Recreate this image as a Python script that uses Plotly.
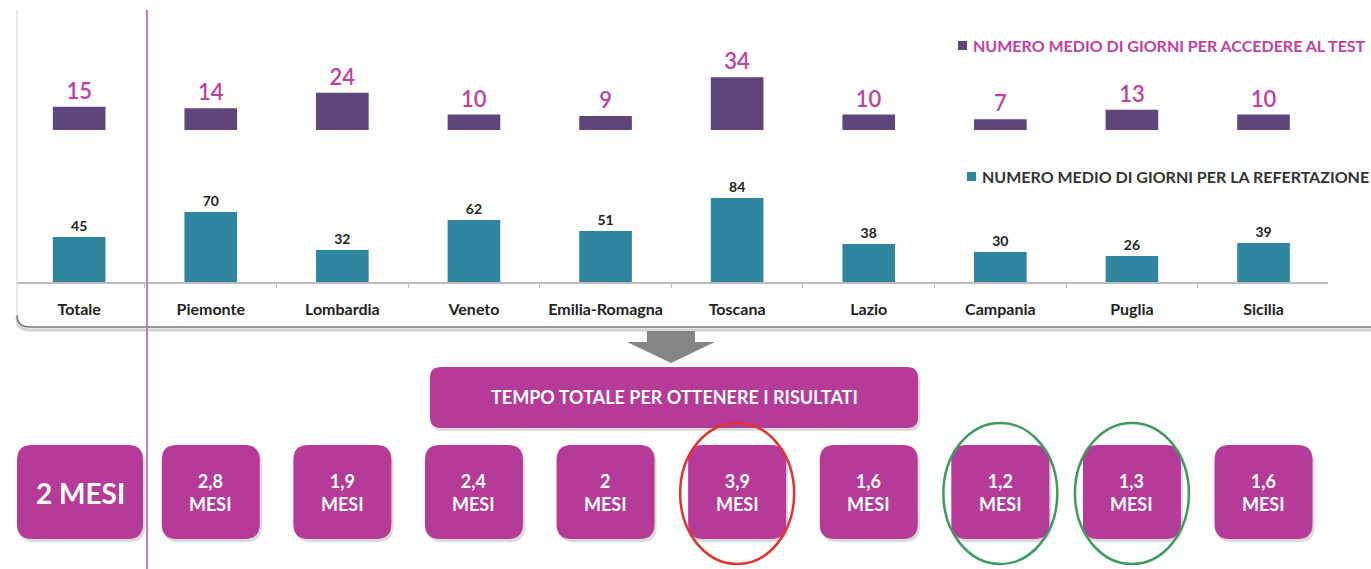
import plotly.graph_objects as go

# ---------------- data ----------------
categories = ["Totale", "Piemonte", "Lombardia", "Veneto", "Emilia-Romagna",
              "Toscana", "Lazio", "Campania", "Puglia", "Sicilia"]
giorni_accesso = [15, 14, 24, 10, 9, 34, 10, 7, 13, 10]
giorni_referto = [45, 70, 32, 62, 51, 84, 38, 30, 26, 39]
tempo_totale = ["2", "2,8", "1,9", "2,4", "2", "3,9", "1,6", "1,2", "1,3", "1,6"]
evidenza = [None, None, None, None, None, "red", None, "green", "green", None]
legend_accesso = "NUMERO MEDIO DI GIORNI PER ACCEDERE AL TEST"
legend_referto = "NUMERO MEDIO DI GIORNI PER LA REFERTAZIONE"
titolo = "TEMPO TOTALE PER OTTENERE I RISULTATI"

# ---------------- style ----------------
W, H = 1371, 569
FONT = "Lato"
PURPLE = "#5E467B"
TEAL = "#2F859D"
MAGENTA = "#B63A97"
LABEL_MAG = "#C23FA0"
DARK = "#222222"

X_DOM = (16, 1328)
X_RANGE = (-0.48, 9.49)


def X(px):
    return px / W


def Y(py):
    return 1 - py / H


def cat_px(i):
    return X_DOM[0] + (i - X_RANGE[0]) / (X_RANGE[1] - X_RANGE[0]) * (X_DOM[1] - X_DOM[0])


def rrect(x0, y0, x1, y1, r):
    pts = [("M", [(x0 + r, y0)]), ("L", [(x1 - r, y0)]), ("Q", [(x1, y0), (x1, y0 + r)]),
           ("L", [(x1, y1 - r)]), ("Q", [(x1, y1), (x1 - r, y1)]), ("L", [(x0 + r, y1)]),
           ("Q", [(x0, y1), (x0, y1 - r)]), ("L", [(x0, y0 + r)]), ("Q", [(x0, y0), (x0 + r, y0)])]
    s = ""
    for cmd, ps in pts:
        s += cmd + " " + " ".join(f"{X(a):.5f},{Y(b):.5f}" for a, b in ps) + " "
    return s + "Z"


fig = go.Figure()

fig.add_trace(go.Bar(
    x=categories, y=giorni_accesso, xaxis="x", yaxis="y2",
    marker=dict(color=PURPLE, line=dict(width=0)), width=0.4,
    text=[str(v) for v in giorni_accesso], textposition="outside",
    textfont=dict(family=FONT, size=22, color=LABEL_MAG, weight=600),
    cliponaxis=False, showlegend=False, hoverinfo="skip"))

fig.add_trace(go.Bar(
    x=categories, y=giorni_referto, xaxis="x", yaxis="y",
    marker=dict(color=TEAL, line=dict(width=0)), width=0.4,
    text=[str(v) for v in giorni_referto], textposition="outside",
    textfont=dict(family=FONT, size=14, color=DARK, weight="bold"),
    cliponaxis=False, showlegend=False, hoverinfo="skip"))

shapes = []
annotations = []

# panel frame
shapes.append(dict(type="path", xref="paper", yref="paper",
                   path=f"M {X(17)},{Y(10)} L {X(17)},{Y(314)}",
                   line=dict(color="#E2E2E2", width=1.5)))
shapes.append(dict(type="path", xref="paper", yref="paper",
                   path=f"M {X(17)},{Y(318)} Q {X(17)},{Y(330)} {X(30)},{Y(330)} L {X(1371)},{Y(330)}",
                   line=dict(color="#D3D3D3", width=3)))
shapes.append(dict(type="path", xref="paper", yref="paper",
                   path=f"M {X(17)},{Y(315)} Q {X(17)},{Y(327)} {X(30)},{Y(327)} L {X(1371)},{Y(327)}",
                   line=dict(color="#777777", width=1.5)))

# vertical separator
shapes.append(dict(type="line", xref="paper", yref="paper",
                   x0=X(147), x1=X(147), y0=Y(10), y1=Y(569),
                   line=dict(color="#C47DB8", width=2)))

# arrow
shapes.append(dict(type="path", xref="paper", yref="paper",
                   path=(f"M {X(647)},{Y(331)} L {X(695)},{Y(331)} L {X(695)},{Y(342)} "
                         f"L {X(715)},{Y(342)} L {X(671)},{Y(363)} L {X(627)},{Y(342)} "
                         f"L {X(647)},{Y(342)} Z"),
                   fillcolor="#858585", line=dict(width=0)))

# title box
shapes.append(dict(type="path", xref="paper", yref="paper", path=rrect(432, 370, 920, 431, 11),
                   fillcolor="#D9D9D9", line=dict(width=0)))
shapes.append(dict(type="path", xref="paper", yref="paper", path=rrect(430, 367, 918, 428, 11),
                   fillcolor=MAGENTA, line=dict(width=0)))
annotations.append(dict(xref="paper", yref="paper", x=X(674), y=Y(397), text=titolo,
                        xanchor="center", yanchor="middle", showarrow=False,
                        font=dict(family=FONT, size=18, color="white", weight="bold")))

# result boxes
for i, (cat, v) in enumerate(zip(categories, tempo_totale)):
    c = cat_px(i)
    if i == 0:
        x0, x1 = 17, 143
    else:
        x0, x1 = c - 49, c + 49
    shapes.append(dict(type="path", xref="paper", yref="paper", path=rrect(x0 + 2, 448, x1 + 2, 542, 15),
                       fillcolor="#DADADA", line=dict(width=0)))
    shapes.append(dict(type="path", xref="paper", yref="paper", path=rrect(x0, 445, x1, 539, 15),
                       fillcolor=MAGENTA, line=dict(width=0)))
    if i == 0:
        annotations.append(dict(xref="paper", yref="paper", x=X((x0 + x1) / 2), y=Y(493),
                                xanchor="center", yanchor="middle",
                                text=f"{v} MESI", showarrow=False,
                                font=dict(family=FONT, size=28, color="white", weight="bold")))
    else:
        annotations.append(dict(xref="x", yref="paper", x=cat, y=Y(492),
                                xanchor="center", yanchor="middle",
                                text=f"{v}<br>MESI", showarrow=False,
                                font=dict(family=FONT, size=18, color="white", weight="bold")))
    if evidenza[i]:
        col = "#E2332B" if evidenza[i] == "red" else "#3E9A60"
        shapes.append(dict(type="circle", xref="paper", yref="paper",
                           x0=X(c - 57), x1=X(c + 57), y0=Y(564), y1=Y(423),
                           line=dict(color=col, width=2.5)))

# legend (manual)
shapes.append(dict(type="rect", xref="paper", yref="paper", x0=X(958), x1=X(967), y0=Y(50), y1=Y(41),
                   fillcolor=PURPLE, line=dict(width=0)))
annotations.append(dict(xref="paper", yref="paper", x=X(971), y=Y(45.5), xanchor="left",
                        yanchor="middle", text=legend_accesso, showarrow=False,
                        font=dict(family=FONT, size=16, color=LABEL_MAG, weight="bold")))
shapes.append(dict(type="rect", xref="paper", yref="paper", x0=X(967), x1=X(976), y0=Y(181), y1=Y(172),
                   fillcolor=TEAL, line=dict(width=0)))
annotations.append(dict(xref="paper", yref="paper", x=X(980), y=Y(176.5), xanchor="left",
                        yanchor="middle", text=legend_referto, showarrow=False,
                        font=dict(family=FONT, size=16, color="#333333", weight="bold")))

fig.update_layout(
    width=W, height=H, autosize=False,
    margin=dict(l=0, r=0, t=0, b=0),
    paper_bgcolor="white", plot_bgcolor="white",
    xaxis=dict(domain=[X(X_DOM[0]), X(X_DOM[1])], range=list(X_RANGE), anchor="y",
               showline=True, linecolor="#BDBDBD", linewidth=1.5,
               ticks="outside", tickson="boundaries", ticklen=4, tickcolor="#BDBDBD",
               ticklabelstandoff=12, showgrid=False, zeroline=False,
               tickfont=dict(family=FONT, size=16, color=DARK, weight="bold")),
    yaxis=dict(domain=[Y(282), Y(150)], range=[0, 132], visible=False),
    yaxis2=dict(domain=[Y(130), Y(10)], range=[0, 77.4], visible=False, anchor="x"),
    shapes=shapes, annotations=annotations,
)

fig.write_html("out.html", config={"displayModeBar": False},
               post_script="document.body.style.margin='0px';document.body.style.overflow='hidden';")
